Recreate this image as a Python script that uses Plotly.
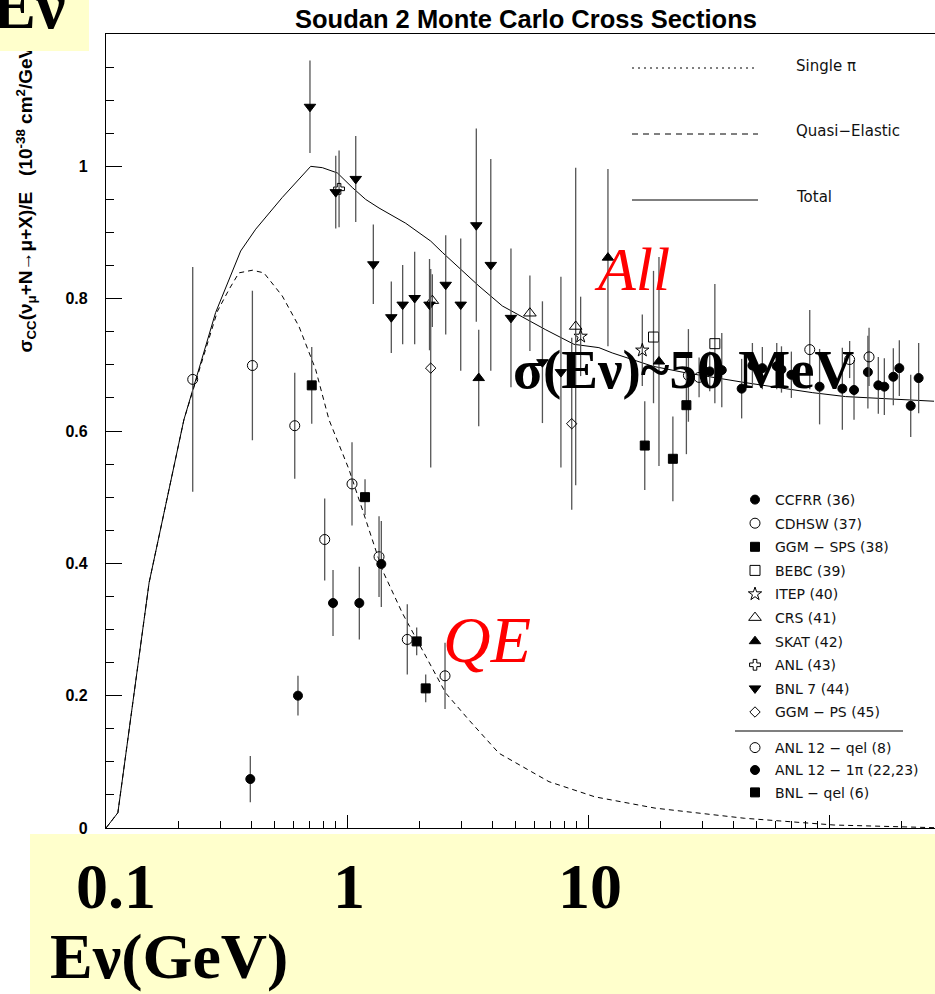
import plotly.graph_objects as go

# ---------------- Monte Carlo curves (E in GeV, sigma/E in 1e-38 cm^2/GeV) ----------------
total_E = [0.1, 0.112, 0.151, 0.2105, 0.285, 0.324, 0.362, 0.418, 0.539, 0.707, 0.790, 0.912,
           1.052, 1.195, 1.358, 1.752, 2.225, 2.486, 3.53, 4.41, 5.51, 6.68, 8.75, 11.1, 12.6,
           18.5, 25.4, 45.1, 85.2, 117.0, 272.8]
total_sig = [0.0, 0.023, 0.371, 0.617, 0.779, 0.829, 0.872, 0.905, 0.953, 1.000, 0.998, 0.990,
             0.968, 0.950, 0.937, 0.914, 0.887, 0.870, 0.819, 0.789, 0.769, 0.753, 0.731, 0.726, 0.718,
             0.698, 0.688, 0.673, 0.658, 0.652, 0.645]

qe_E = [0.1, 0.112, 0.151, 0.2105, 0.290, 0.324, 0.356, 0.405, 0.452, 0.539, 0.632, 0.741, 0.842,
        1.019, 1.196, 1.401, 1.696, 2.053, 2.568, 3.21, 4.27, 6.89, 10.7, 19.0, 44.6, 105.0, 272.8]
qe_sig = [0.0, 0.023, 0.371, 0.617, 0.781, 0.814, 0.839, 0.843, 0.839, 0.804, 0.758, 0.693, 0.617,
          0.542, 0.466, 0.390, 0.325, 0.269, 0.204, 0.163, 0.113, 0.070, 0.047, 0.030, 0.0147, 0.0045, 0.0005]

# ---------------- measurements: energy, sigma/E, error ----------------
ccfrr_E = [32.0, 35.9, 43.4, 48.1, 52.9, 60.7, 63.5, 69.8, 91.4, 113.6, 127.0, 145.0, 160.2, 169.7,
           184.9, 195.8, 218.3, 235.5]
ccfrr_s = [0.690, 0.692, 0.664, 0.699, 0.695, 0.698, 0.693, 0.685, 0.667, 0.664, 0.662, 0.689, 0.669,
           0.667, 0.682, 0.695, 0.638, 0.680]
ccfrr_e = [0.030, 0.056, 0.045, 0.034, 0.032, 0.035, 0.035, 0.035, 0.057, 0.062, 0.045, 0.055, 0.043,
           0.043, 0.043, 0.042, 0.047, 0.053]

cdhsw_E = [26.1, 28.9, 83.2, 121.8, 146.6]
cdhsw_s = [0.684, 0.681, 0.723, 0.708, 0.712]
cdhsw_e = [0.070, 0.030, 0.060, 0.028, 0.044]

ggmsps_E = [17.2, 22.5, 25.6]
ggmsps_s = [0.578, 0.558, 0.639]
ggmsps_e = [0.067, 0.064, 0.074]

bebc_E = [18.7, 33.6]
bebc_s = [0.742, 0.732]
bebc_e = [0.100, 0.090]

itep_E = [9.32, 16.8]
itep_s = [0.743, 0.722]
itep_e = [0.060, 0.054]

crs_E = [2.26, 5.74, 8.89]
crs_s = [0.797, 0.778, 0.758]
crs_e = [0.040, 0.057, 0.240]

skat_E = [3.52, 12.1, 19.7]
skat_s = [0.680, 0.862, 0.705]
skat_e = [0.073, 0.134, 0.158]

anl_E = [0.927]
anl_s = [0.966]
anl_e = [0.058]

bnl7_E = [0.702, 0.898, 1.087, 1.286, 1.527, 1.702, 1.909, 2.20, 2.568, 2.964, 3.44, 3.95, 4.79,
          6.47, 7.72]
bnl7_s = [1.090, 0.961, 0.981, 0.852, 0.772, 0.791, 0.801, 0.791, 0.821, 0.791, 0.911, 0.851, 0.771,
          0.704, 0.689]
bnl7_e = [0.070, 0.055, 0.065, 0.060, 0.054, 0.060, 0.070, 0.069, 0.075, 0.100, 0.146, 0.160, 0.105,
          0.092, 0.144]

ggmps_E = [2.225, 8.56]
ggmps_s = [0.695, 0.611]
ggmps_e = [0.150, 0.130]

anlqel_E = [0.229, 0.405, 0.607, 0.808, 1.049, 1.358, 1.779, 2.551]
anlqel_s = [0.678, 0.699, 0.608, 0.436, 0.520, 0.410, 0.285, 0.230]
anlqel_e = [0.170, 0.113, 0.080, 0.062, 0.063, 0.061, 0.053, 0.050]

anl1pi_E = [0.397, 0.626, 0.875, 1.125, 1.388]
anl1pi_s = [0.074, 0.200, 0.340, 0.340, 0.399]
anl1pi_e = [0.035, 0.030, 0.050, 0.055, 0.065]

bnlqel_E = [0.714, 1.188, 1.946, 2.121]
bnlqel_s = [0.669, 0.500, 0.282, 0.211]
bnlqel_e = [0.058, 0.027, 0.021, 0.021]

# x axis labels / y axis labels
x_tickvals = [0.1, 1, 10, 100]
x_ticktext = ["\u00a00.1", "1", "10", ""]
x_minor = [0.2, 0.3, 0.4, 0.5, 0.6, 0.7, 0.8, 0.9, 2, 3, 4, 5, 6, 7, 8, 9,
           20, 30, 40, 50, 60, 70, 80, 90, 200]
y_tickvals = [0, 0.2, 0.4, 0.6, 0.8, 1.0, 1.2]
y_ticktext = ["0", "0.2", "0.4", "0.6", "0.8", "1", ""]

# ---------------- page geometry ----------------
FIG_W, FIG_H = 935, 994
L, T, R, B = 106, 34, 0, 166
W = FIG_W - L - R
H = FIG_H - T - B


def px_x(p):
    return (p - L) / W


def px_y(p):
    return (T + H - p) / H


YELLOW = "#FFFFCC"
SANS = "Liberation Sans, Arial, sans-serif"
SERIF = "Liberation Serif, Times New Roman, serif"
LEG_FONT = "DejaVu Sans, sans-serif"
ERR_COL = "#555555"

fig = go.Figure()

# curves
fig.add_trace(go.Scatter(x=qe_E, y=qe_sig, mode="lines", showlegend=False,
                         line=dict(color="black", width=1, dash="5px,4px"), name="Quasi-Elastic"))
fig.add_trace(go.Scatter(x=total_E, y=total_sig, mode="lines", showlegend=False,
                         line=dict(color="black", width=1), name="Total"))

datasets = [
    ("CCFRR (36)", ccfrr_E, ccfrr_s, ccfrr_e, "circle", 9, "legend"),
    ("CDHSW (37)", cdhsw_E, cdhsw_s, cdhsw_e, "circle-open", 10, "legend"),
    ("GGM \u2212 SPS (38)", ggmsps_E, ggmsps_s, ggmsps_e, "square", 9, "legend"),
    ("BEBC (39)", bebc_E, bebc_s, bebc_e, "square-open", 10, "legend"),
    ("ITEP (40)", itep_E, itep_s, itep_e, "star-open", 10, "legend"),
    ("CRS (41)", crs_E, crs_s, crs_e, "triangle-up-open", 11, "legend"),
    ("SKAT (42)", skat_E, skat_s, skat_e, "triangle-up", 10, "legend"),
    ("ANL (43)", anl_E, anl_s, anl_e, "cross-open", 9, "legend"),
    ("BNL 7 (44)", bnl7_E, bnl7_s, bnl7_e, "triangle-down", 10, "legend"),
    ("GGM \u2212 PS (45)", ggmps_E, ggmps_s, ggmps_e, "diamond-open", 8, "legend"),
    ("ANL 12 \u2212 qel (8)", anlqel_E, anlqel_s, anlqel_e, "circle-open", 10, "legend2"),
    ("ANL 12 \u2212 1\u03c0 (22,23)", anl1pi_E, anl1pi_s, anl1pi_e, "circle", 9, "legend2"),
    ("BNL \u2212 qel (6)", bnlqel_E, bnlqel_s, bnlqel_e, "square", 9, "legend2"),
]

for i, (name, xs, ys, es, sym, size, leg) in enumerate(datasets):
    fig.add_trace(go.Scatter(
        x=xs, y=ys, mode="markers", name=name, legend=leg, legendgroup=f"g{i}",
        marker=dict(symbol=sym, size=size, color="black", line=dict(color="black", width=1)),
        error_y=dict(type="data", array=es, visible=True, width=0, thickness=1.3, color=ERR_COL),
    ))

shapes = [
    # yellow caption band under the energy axis
    dict(type="rect", xref="paper", yref="paper", layer="below",
         x0=px_x(30), x1=px_x(940), y0=px_y(1000), y1=px_y(834),
         fillcolor=YELLOW, line=dict(width=0)),
    # key for the model curves
    dict(type="line", xref="paper", yref="paper", x0=px_x(632), x1=px_x(758), y0=px_y(68), y1=px_y(68),
         line=dict(color="black", width=1, dash="2px,4px")),
    dict(type="line", xref="paper", yref="paper", x0=px_x(632), x1=px_x(758), y0=px_y(134), y1=px_y(134),
         line=dict(color="black", width=1, dash="6px,5px")),
    dict(type="line", xref="paper", yref="paper", x0=px_x(632), x1=px_x(758), y0=px_y(200), y1=px_y(200),
         line=dict(color="black", width=1)),
    # separator between the two marker keys
    dict(type="line", xref="paper", yref="paper", x0=px_x(735), x1=px_x(903), y0=px_y(731), y1=px_y(731),
         line=dict(color="#555555", width=1.3)),
]

ytitle = ("<b>\u03c3<sub>CC</sub>(\u03bd<sub>\u03bc</sub>+N\u2192\u03bc+X)/E\u00a0\u00a0\u00a0"
          "(10<sup>-38</sup> cm<sup>2</sup>/GeV)</b>")

annotations = [
    dict(text=ytitle, xref="paper", yref="paper", x=px_x(26), y=px_y(355), xanchor="center",
         yanchor="bottom", textangle=-90, showarrow=False,
         font=dict(family=SANS, size=19, color="black")),
    # curve key labels
    dict(text="Single \u03c0", xref="paper", yref="paper", x=px_x(794), y=px_y(66), xanchor="left",
         yanchor="middle", showarrow=False, font=dict(family=LEG_FONT, size=15, color="#111")),
    dict(text="Quasi\u2212Elastic", xref="paper", yref="paper", x=px_x(794), y=px_y(131), xanchor="left",
         yanchor="middle", showarrow=False, font=dict(family=LEG_FONT, size=15, color="#111")),
    dict(text="Total", xref="paper", yref="paper", x=px_x(794), y=px_y(197), xanchor="left",
         yanchor="middle", showarrow=False, font=dict(family=LEG_FONT, size=15, color="#111")),
    # slide captions
    dict(text="<i>All</i>", xref="paper", yref="paper", x=px_x(592), y=px_y(269), xanchor="left",
         yanchor="middle", showarrow=False, font=dict(family=SERIF, size=62, color="red")),
    dict(text="<i>QE</i>", xref="paper", yref="paper", x=px_x(441), y=px_y(639), xanchor="left",
         yanchor="middle", showarrow=False, font=dict(family=SERIF, size=66, color="red")),
    dict(text="<b>\u03c3(E\u03bd)~50 MeV</b>", xref="paper", yref="paper", x=px_x(511), y=px_y(369),
         xanchor="left", yanchor="middle", showarrow=False, font=dict(family=SERIF, size=55, color="black")),
    dict(text="<b>E\u03bd(GeV)</b>", xref="paper", yref="paper", x=px_x(48), y=px_y(994),
         xanchor="left", yanchor="bottom", showarrow=False, font=dict(family=SERIF, size=64, color="black")),
    # yellow caption box in the top-left corner
    dict(text="\u00a0", xref="paper", yref="paper", x=px_x(0), y=px_y(0), xanchor="left", yanchor="top",
         width=89, height=51, borderpad=0, borderwidth=0, bgcolor=YELLOW, showarrow=False,
         font=dict(size=10)),
    dict(text="<b>E\u03bd</b>", xref="paper", yref="paper", x=px_x(68), y=px_y(44), xanchor="right",
         yanchor="bottom", showarrow=False, font=dict(family=SERIF, size=66, color="black")),
]

fig.update_layout(
    width=FIG_W, height=FIG_H,
    margin=dict(l=L, r=R, t=T, b=B, autoexpand=False),
    paper_bgcolor="white", plot_bgcolor="white",
    title=dict(text="<b>Soudan 2 Monte Carlo Cross Sections</b>", xref="paper", x=px_x(526),
               xanchor="center", yref="container", y=1 - 19 / FIG_H, yanchor="middle",
               font=dict(family=SANS, size=25.5, color="black")),
    xaxis=dict(type="log", range=[-1, -1 + W / 241.0], showgrid=False, zeroline=False,
               showline=True, linecolor="black", linewidth=1.3, mirror=True,
               ticks="inside", ticklen=13, tickwidth=1, tickcolor="black",
               tickmode="array", tickvals=x_tickvals, ticktext=x_ticktext,
               ticklabelstandoff=2, ticklabelshift=2,
               tickfont=dict(family=SERIF, size=64, color="black", weight="bold"),
               minor=dict(tickmode="array", tickvals=x_minor, ticks="inside", ticklen=7,
                          tickwidth=1, tickcolor="black")),
    yaxis=dict(range=[0, 1.2], showgrid=False, zeroline=False,
               showline=True, linecolor="black", linewidth=1.3, mirror=False,
               ticks="inside", ticklen=16, tickwidth=1, tickcolor="black",
               tickmode="array", tickvals=y_tickvals, ticktext=y_ticktext,
               ticklabelstandoff=14,
               tickfont=dict(family=SANS, size=16, color="black", weight="bold"),
               minor=dict(dtick=0.05, tick0=0, ticks="inside", ticklen=8, tickwidth=1,
                          tickcolor="black")),
    legend=dict(x=px_x(735), y=px_y(484), xanchor="left", yanchor="top",
                bgcolor="rgba(0,0,0,0)", borderwidth=0, tracegroupgap=2.4,
                font=dict(family=LEG_FONT, size=14, color="#111")),
    legend2=dict(x=px_x(735), y=px_y(732), xanchor="left", yanchor="top",
                 bgcolor="rgba(0,0,0,0)", borderwidth=0, tracegroupgap=1.2,
                 font=dict(family=LEG_FONT, size=14, color="#111")),
    shapes=shapes,
    annotations=annotations,
)

fig.write_html("out.html")
